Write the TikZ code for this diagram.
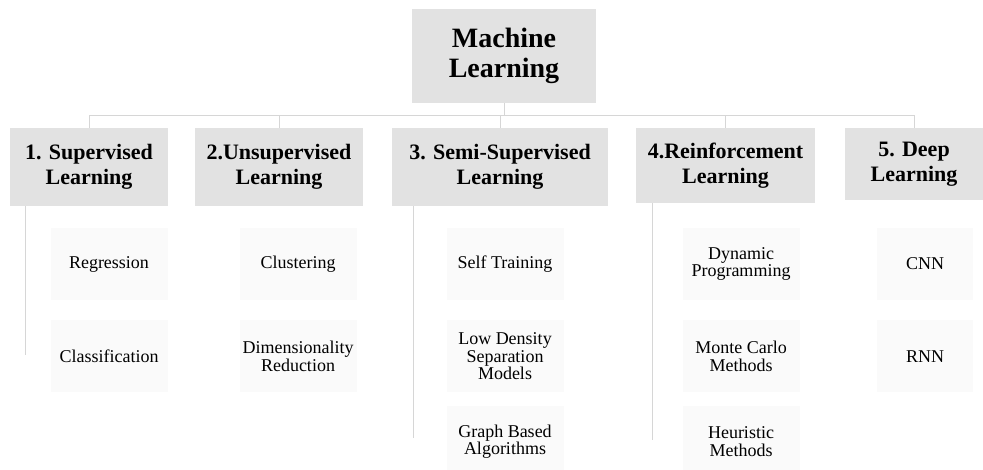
\documentclass[tikz,border=0pt]{standalone}
\usepackage{fontspec}
\setmainfont{Liberation Serif}
\usetikzlibrary{positioning}

\definecolor{boxgray}{HTML}{E2E2E2}
\definecolor{leafgray}{HTML}{FAFAFA}
\definecolor{linegray}{HTML}{D6D6D6}

\begin{document}
\begin{tikzpicture}[x=1pt, y=-1pt,
  mlbox/.style={fill=boxgray, minimum width=184pt, minimum height=94pt, align=center, font=\fontsize{28}{30}\selectfont\bfseries},
  catbox/.style={fill=boxgray, minimum height=78pt, inner sep=2pt, align=center, font=\fontsize{22}{25}\selectfont\bfseries},
  leafbox/.style={fill=leafgray, minimum width=117pt, minimum height=72pt, inner sep=2pt, align=center, font=\fontsize{18}{17.5}\selectfont},
  link/.style={draw=linegray, line width=0.8pt}]

\useasboundingbox (0,0) rectangle (983,469);

% Root
\node[mlbox] (ml) at (504,56) {Machine\\Learning};

% Categories
\node[catbox, minimum width=158pt] (sup) at (89,167) {1. Supervised\\Learning};
\node[catbox, minimum width=168pt] (unsup) at (279,167) {2.Unsupervised\\Learning};
\node[catbox, minimum width=216pt] (semi) at (500,167) {3. Semi-Supervised\\Learning};
\node[catbox, minimum width=179pt, minimum height=75pt] (reinf) at (725.5,165.5) {4.Reinforcement\\Learning};
\node[catbox, minimum width=138pt, minimum height=72pt] (deep) at (914,164) {5. Deep\\Learning};

% Tree lines
\foreach \c in {sup,unsup,semi,reinf,deep}
  \draw[link] (ml.south) -- ++(0,12) -| (\c.north);

% Side spines
\coordinate (supend) at (25,355);
\coordinate (semiend) at (413,438);
\coordinate (reinfend) at (652,440);
\draw[link] (sup.south -| supend) -- (supend);
\draw[link] (semi.south -| semiend) -- (semiend);
\draw[link] (reinf.south -| reinfend) -- (reinfend);

% Leaves
\node[leafbox] (reg) at (109,264) {Regression};
\node[leafbox, below=20pt of reg] (clf) {Classification};

\node[leafbox] (clu) at (298,264) {Clustering};
\node[leafbox, below=20pt of clu] (dim) {Dimensionality\\Reduction};

\node[leafbox] (self) at (505,264) {Self Training};
\node[leafbox, below=20pt of self] (lowd) {Low Density\\Separation\\Models};
\node[leafbox, below=13pt of lowd] (graph) {Graph Based\\Algorithms};

\node[leafbox] (dyn) at (741,264) {Dynamic\\Programming};
\node[leafbox, below=20pt of dyn] (monte) {Monte Carlo\\Methods};
\node[leafbox, below=13pt of monte] (heur) {Heuristic\\Methods};

\node[leafbox, minimum width=96pt] (cnn) at (925,264) {CNN};
\node[leafbox, minimum width=96pt, below=20pt of cnn] (rnn) {RNN};

\end{tikzpicture}
\end{document}
